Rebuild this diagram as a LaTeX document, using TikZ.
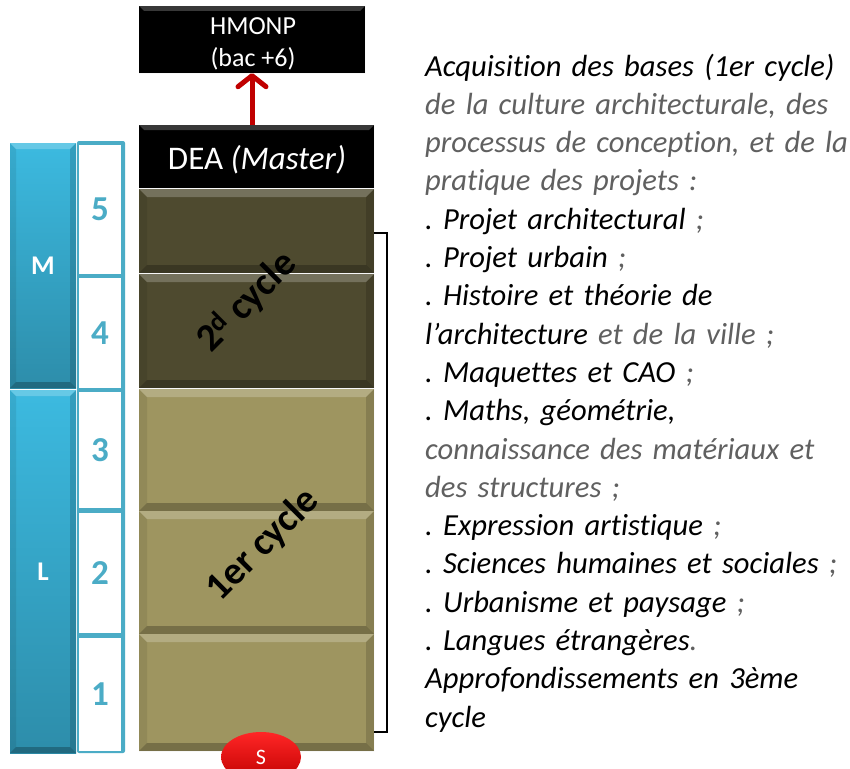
\documentclass[tikz,border=0pt]{standalone}
\usepackage{fontspec}
\setmainfont{Carlito}[Ligatures=NoCommon]
\usetikzlibrary{shapes.geometric,arrows.meta}
\definecolor{numblue}{HTML}{4BACC6}
\definecolor{bartop}{HTML}{3CBAE0}
\definecolor{barbot}{HTML}{2D8DAA}
\definecolor{olivedark}{HTML}{4E4A2F}
\definecolor{olivelight}{HTML}{9E9560}
\definecolor{arrowred}{HTML}{C00000}
\definecolor{txtgray}{HTML}{606060}
\frenchspacing
\tikzset{
  bevel/.style={path picture={
      \coordinate (bnw) at (path picture bounding box.north west);
      \coordinate (bse) at (path picture bounding box.south east);
      \coordinate (bne) at (bnw -| bse);
      \coordinate (bsw) at (bse -| bnw);
      \fill[white,opacity=.22] (bnw) -- (bne) -- ([xshift=-#1,yshift=-#1]bne) -- ([xshift=#1,yshift=-#1]bnw) -- cycle;
      \fill[black,opacity=.25] (bsw) -- (bse) -- ([xshift=-#1,yshift=#1]bse) -- ([xshift=#1,yshift=#1]bsw) -- cycle;
      \fill[black,opacity=.08] (bnw) -- (bsw) -- ([xshift=#1,yshift=#1]bsw) -- ([xshift=#1,yshift=-#1]bnw) -- cycle;
      \fill[black,opacity=.15] (bne) -- (bse) -- ([xshift=-#1,yshift=#1]bse) -- ([xshift=-#1,yshift=-#1]bne) -- cycle;
    }},
  bevel/.default=7pt,
  darkbox/.style={rectangle, fill=black, inner sep=0pt, bevel=5pt},
  boxtext/.style={inner sep=0pt, text=white, align=center},
  panel/.style={rectangle, inner sep=0pt, minimum width=235pt, bevel=8pt},
  bar/.style={rectangle, inner sep=0pt, minimum width=66pt, top color=bartop, bottom color=barbot,
    text=white, font=\fontsize{27}{27}\selectfont\bfseries, bevel=6pt},
  numcell/.style={rectangle, inner sep=0pt, fill=white, minimum width=42pt, text=numblue,
    font=\fontsize{35}{35}\selectfont\bfseries},
  cyclelabel/.style={rotate=45, inner sep=0pt, text=black, font=\fontsize{39}{39}\selectfont\bfseries},
  infotext/.style={anchor=base west, inner sep=0pt, text width=480pt, align=left,
    font=\fontsize{30.6}{38.3}\selectfont\itshape},
  sbadge/.style={ellipse, inner sep=0pt, minimum width=80pt, minimum height=50pt,
    top color=red!85!white, bottom color=arrowred, text=white, font=\fontsize{22}{22}\selectfont},
  uparrow/.style={arrowred, line width=5pt, -{Straight Barb[length=11pt,width=28pt,round]}},
}
\begin{document}
\begin{tikzpicture}[x=1pt,y=-1pt]
  \useasboundingbox[fill=white] (0,0) rectangle (850,768);
  % M / L bars
  \node[bar, minimum height=245pt] (mbar) at (43,265.5) {M};
  \node[bar, minimum height=363pt] (lbar) at (43,571.5) {L};
  % year column
  \fill[numblue, rounded corners=2pt] (77,141) rectangle (125,753);
  \foreach \nm/\cy/\h/\t in {n5/209/129/5, n4/333/110/4, n3/450/116/3, n2/573/120/2, n1/694.5/113/1}
    \node[numcell, minimum height=\h pt] (\nm) at (100,\cy) {\t};
  % cycle panels
  \foreach \nm/\cy/\h/\col in {y5/231/84/olivedark, y4/331/114/olivedark, y3/450/122/olivelight,
      y2/572.5/123/olivelight, y1/692.5/117/olivelight}
    \node[panel, fill=\col, minimum height=\h pt] (\nm) at (256.5,\cy) {};
  \node[darkbox, minimum width=235pt, minimum height=63pt] (dea) at (256.5,156.5) {};
  \node[boxtext, font=\fontsize{33}{33}\selectfont] (deatext) at (257,160) {DEA \textit{(Master)}};
  \node[darkbox, minimum width=226pt, minimum height=67pt] (hmonp) at (252,39.5) {};
  \node[boxtext, font=\fontsize{26}{32}\selectfont] (hmonptext) at (253,44) {HMONP\\(bac +6)};
  \draw[uparrow] (dea.north -| hmonp.south) -- (hmonp.south);
  \node[cyclelabel] (c2) at (247,302) {2\textsuperscript{d} cycle};
  \node[cyclelabel] (c1) at (263,545) {1er cycle};
  \node[sbadge] (sb) at (261,757) {S};
  % bracket
  \draw[line width=1.3pt] (374,233) -- (387,233) -- (387,732) -- (374,732);
  % description
  \node[infotext] (info) at (425,76) {Acquisition des bases (1er cycle)\\
    {\color{txtgray}de la culture architecturale, des}\\
    {\color{txtgray}processus de conception, et de la}\\
    {\color{txtgray}pratique des projets :}\\
    . Projet architectural {\color{txtgray};}\\
    . Projet urbain {\color{txtgray};}\\
    . Histoire et théorie de\\
    l’architecture {\color{txtgray}et de la ville ;}\\
    . Maquettes et CAO {\color{txtgray};}\\
    . Maths, géométrie,\\
    {\color{txtgray}connaissance des matériaux et}\\
    {\color{txtgray}des structures ;}\\
    . Expression artistique {\color{txtgray};}\\
    . Sciences humaines et sociales {\color{txtgray};}\\
    . Urbanisme et paysage {\color{txtgray};}\\
    . Langues étrangères{\color{txtgray}.}\\
    Approfondissements en 3ème\\
    cycle};
\end{tikzpicture}
\end{document}
